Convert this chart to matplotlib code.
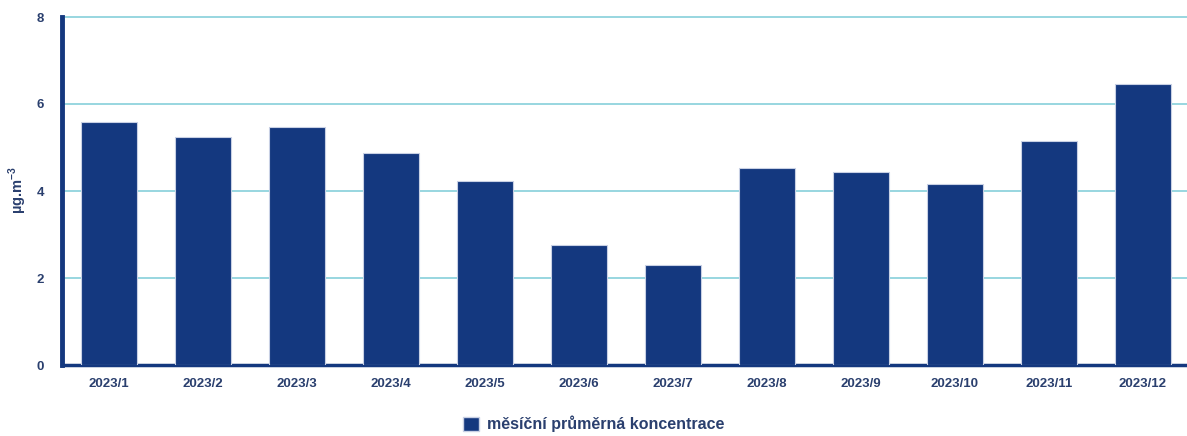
import matplotlib
matplotlib.use("Agg")
import matplotlib.pyplot as plt
from matplotlib.patches import Patch

months = ["2023/1", "2023/2", "2023/3", "2023/4", "2023/5", "2023/6",
          "2023/7", "2023/8", "2023/9", "2023/10", "2023/11", "2023/12"]
values = [5.58, 5.24, 5.46, 4.88, 4.24, 2.77, 2.29, 4.54, 4.43, 4.16, 5.15, 6.45]
yticks = [0, 2, 4, 6, 8]
legend_label = "měsíční průměrná koncentrace"

navy = "#14387f"
text_c = "#2a3f6e"
grid_c = "#86d0da"

fig = plt.figure(figsize=(11.87, 4.36), dpi=100)
ax = fig.add_axes([62/1187, 1 - 365/436, (1190-62)/1187, (365-17)/436])

x = list(range(len(months)))
ax.bar(x, values, width=0.59, color=navy, edgecolor="#c8d0e4", linewidth=0.8, zorder=3)

ax.set_xlim(-0.5, 11.5)
ax.set_ylim(0, 8)
ax.set_yticks(yticks)
ax.set_xticks(x)
ax.set_xticklabels(months)
ax.yaxis.grid(True, color=grid_c, linewidth=1.2, zorder=0)
for gl in ax.get_ygridlines():
    gl.set_clip_on(False)
ax.set_axisbelow(True)

for s in ["top", "right"]:
    ax.spines[s].set_visible(False)
ax.spines["left"].set_color(navy)
ax.spines["left"].set_linewidth(3.5)
ax.spines["bottom"].set_color(navy)
ax.spines["bottom"].set_linewidth(2.5)

ax.tick_params(axis="both", length=0, labelsize=9.5, labelcolor=text_c)
ax.tick_params(axis="y", pad=13)
ax.tick_params(axis="x", pad=9)
for lab in ax.get_xticklabels() + ax.get_yticklabels():
    lab.set_fontweight("bold")
    lab.set_family("Liberation Sans")

fig.text(18/1187, 1 - 190/436, "µg.m$^{\\mathregular{-3}}$", rotation=90,
         ha="center", va="center", fontsize=10.5, color=text_c,
         fontweight="bold", family="Liberation Sans")

handle = Patch(facecolor=navy, edgecolor="#c8d0e4")
fig.legend([handle], [legend_label], loc="center", bbox_to_anchor=(0.5, 1 - 424/436),
           frameon=False, prop={"family": "Liberation Sans", "weight": "bold", "size": 11.5},
           labelcolor=text_c, handlelength=1.0, handleheight=1.0, handletextpad=0.5)

fig.savefig("out.png", dpi=100)
